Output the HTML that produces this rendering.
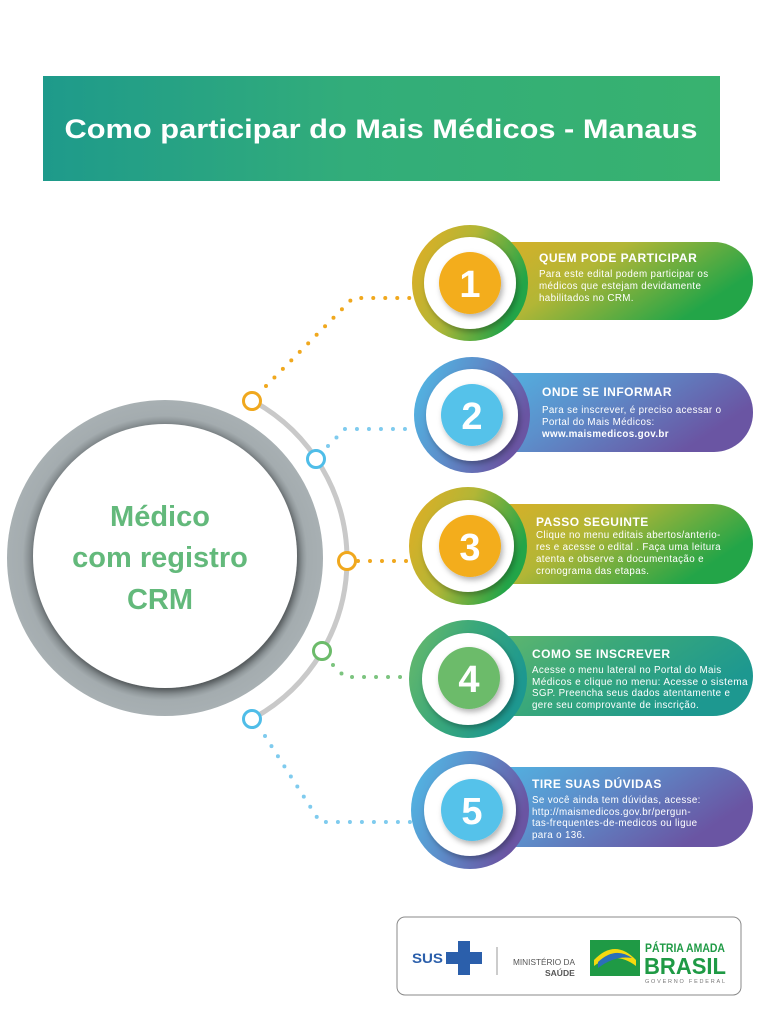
<!DOCTYPE html>
<html><head><meta charset="utf-8"><style>
html,body{margin:0;padding:0;background:#fff;}
svg{display:block;font-family:"Liberation Sans",sans-serif;}
.b{font-size:9.8px;letter-spacing:0.35px;}
.h{font-size:12px;font-weight:bold;letter-spacing:0.5px;}
</style></head><body>
<svg width="765" height="1024" viewBox="0 0 765 1024" xmlns="http://www.w3.org/2000/svg">
<defs>
<linearGradient id="tg" x1="0" x2="1" y1="0" y2="0"><stop offset="0" stop-color="#1e9a8b"/><stop offset="0.45" stop-color="#32ad7a"/><stop offset="1" stop-color="#38b26f"/></linearGradient>
<linearGradient id="gY" x1="0" x2="1" y1="0" y2="0.4"><stop offset="0" stop-color="#e5ad22"/><stop offset="0.5" stop-color="#b2b636"/><stop offset="1" stop-color="#23a548"/></linearGradient>
<linearGradient id="gB" x1="0" x2="1" y1="0" y2="0.4"><stop offset="0" stop-color="#4fbde8"/><stop offset="0.5" stop-color="#5c8fcb"/><stop offset="1" stop-color="#6a55a3"/></linearGradient>
<linearGradient id="gG" x1="0" x2="1" y1="0" y2="0.4"><stop offset="0" stop-color="#6cbb6a"/><stop offset="0.5" stop-color="#3aa87a"/><stop offset="1" stop-color="#1d9890"/></linearGradient>
<radialGradient id="ring" cx="0.5" cy="0.5" r="0.5"><stop offset="0.82" stop-color="#6f7679"/><stop offset="0.9" stop-color="#a4acaf"/><stop offset="1" stop-color="#a8b0b3"/></radialGradient>
<filter id="sh" x="-30%" y="-30%" width="160%" height="160%"><feDropShadow dx="2" dy="3" stdDeviation="3" flood-color="#000" flood-opacity="0.3"/></filter>
</defs>

<rect x="43" y="76" width="677" height="105" fill="url(#tg)"/>
<text x="381" y="138" text-anchor="middle" fill="#fff" font-size="27" font-weight="bold" textLength="633" lengthAdjust="spacingAndGlyphs">Como participar do Mais Médicos - Manaus</text>

<circle cx="165" cy="558" r="158" fill="url(#ring)"/>
<circle cx="165" cy="556" r="132" fill="#fff" filter="url(#sh)"/>
<text fill="#63b97b" font-weight="bold" font-size="29" text-anchor="middle">
<tspan x="160" y="526">Médico</tspan><tspan x="160" y="567">com registro</tspan><tspan x="160" y="609">CRM</tspan></text>

<path d="M253,401 A181,181 0 0 1 252,719" fill="none" stroke="#c9c9c9" stroke-width="5"/>

<g stroke-linecap="round" stroke-width="4" fill="none" stroke-dasharray="0 12">
<path d="M266,386 L353,298 L410,298" stroke="#f0a81e"/>
<path d="M328,446 L345,429 L410,429" stroke="#7fcbee"/>
<path d="M358,561 L410,561" stroke="#f0a81e"/>
<path d="M333,665 L345,677 L410,677" stroke="#7cc47f"/>
<path d="M265,736 L320,822 L410,822" stroke="#7fcbee"/>
</g>
<g fill="#fff" stroke-width="3">
<circle cx="252" cy="401" r="8.5" stroke="#f0a81e"/>
<circle cx="316" cy="459" r="8.5" stroke="#4fbde8"/>
<circle cx="347" cy="561" r="8.5" stroke="#f0a81e"/>
<circle cx="322" cy="651" r="8.5" stroke="#6cbb6a"/>
<circle cx="252" cy="719" r="8.5" stroke="#4fbde8"/>
</g>

<g>
<rect x="455" y="242" width="298" height="78" rx="39" fill="url(#gY)"/>
<circle cx="470" cy="283" r="58" fill="url(#gY)"/>
<circle cx="470" cy="283" r="46" fill="#fff" filter="url(#sh)"/>
<circle cx="470" cy="283" r="31" fill="#f3ad1d" filter="url(#sh)"/>
<text x="470" y="297" text-anchor="middle" fill="#fff" font-size="38" font-weight="bold">1</text>
<text x="539" y="262" fill="#fff" class="h">QUEM PODE PARTICIPAR</text>
<text fill="#fff" class="b"><tspan x="539" y="277">Para este edital podem participar os</tspan><tspan x="539" y="289">médicos que estejam devidamente</tspan><tspan x="539" y="301">habilitados no  CRM.</tspan></text>
</g>
<g>
<rect x="455" y="373" width="298" height="79" rx="39" fill="url(#gB)"/>
<circle cx="472" cy="415" r="58" fill="url(#gB)"/>
<circle cx="472" cy="415" r="46" fill="#fff" filter="url(#sh)"/>
<circle cx="472" cy="415" r="31" fill="#55c2ea" filter="url(#sh)"/>
<text x="472" y="429" text-anchor="middle" fill="#fff" font-size="38" font-weight="bold">2</text>
<text x="542" y="396" fill="#fff" class="h">ONDE SE INFORMAR</text>
<text fill="#fff" class="b"><tspan x="542" y="413">Para se inscrever, é preciso acessar o</tspan><tspan x="542" y="425">Portal do Mais Médicos:</tspan><tspan x="542" y="437" font-weight="bold">www.maismedicos.gov.br</tspan></text>
</g>
<g>
<rect x="455" y="504" width="298" height="80" rx="40" fill="url(#gY)"/>
<circle cx="468" cy="546" r="59" fill="url(#gY)"/>
<circle cx="468" cy="546" r="46" fill="#fff" filter="url(#sh)"/>
<circle cx="470" cy="546" r="31" fill="#f3ad1d" filter="url(#sh)"/>
<text x="470" y="560" text-anchor="middle" fill="#fff" font-size="38" font-weight="bold">3</text>
<text x="536" y="526" fill="#fff" class="h">PASSO SEGUINTE</text>
<text fill="#fff" class="b"><tspan x="536" y="538">Clique no menu editais abertos/anterio-</tspan><tspan x="536" y="550">res e acesse o edital . Faça uma leitura</tspan><tspan x="536" y="562">atenta e observe a documentação e</tspan><tspan x="536" y="574">cronograma das etapas.</tspan></text>
</g>
<g>
<rect x="455" y="636" width="298" height="80" rx="40" fill="url(#gG)"/>
<circle cx="468" cy="679" r="59" fill="url(#gG)"/>
<circle cx="468" cy="679" r="46" fill="#fff" filter="url(#sh)"/>
<circle cx="469" cy="678" r="31" fill="#6cbb6a" filter="url(#sh)"/>
<text x="469" y="692" text-anchor="middle" fill="#fff" font-size="38" font-weight="bold">4</text>
<text x="532" y="658" fill="#fff" class="h">COMO SE INSCREVER</text>
<text fill="#fff" class="b"><tspan x="532" y="673">Acesse o menu lateral no Portal do Mais</tspan><tspan x="532" y="685" textLength="216" lengthAdjust="spacingAndGlyphs">Médicos e clique no menu: Acesse o sistema</tspan><tspan x="532" y="696">SGP. Preencha seus dados atentamente e</tspan><tspan x="532" y="708">gere seu comprovante de inscrição.</tspan></text>
</g>
<g>
<rect x="455" y="767" width="298" height="80" rx="40" fill="url(#gB)"/>
<circle cx="470" cy="810" r="59" fill="url(#gB)"/>
<circle cx="470" cy="810" r="46" fill="#fff" filter="url(#sh)"/>
<circle cx="472" cy="810" r="31" fill="#55c2ea" filter="url(#sh)"/>
<text x="472" y="824" text-anchor="middle" fill="#fff" font-size="38" font-weight="bold">5</text>
<text x="532" y="788" fill="#fff" class="h">TIRE SUAS DÚVIDAS</text>
<text fill="#fff" class="b"><tspan x="532" y="803">Se você ainda tem dúvidas, acesse:</tspan><tspan x="532" y="815">http://maismedicos.gov.br/pergun-</tspan><tspan x="532" y="826">tas-frequentes-de-medicos ou ligue</tspan><tspan x="532" y="838">para o 136.</tspan></text>
</g>

<rect x="397" y="917" width="344" height="78" rx="8" fill="#fff" stroke="#8a8a8a" stroke-width="1"/>
<text x="412" y="963" fill="#2b5fab" font-size="14" font-weight="bold" textLength="31" lengthAdjust="spacingAndGlyphs">SUS</text>
<path d="M458,941 h12 v11 h12 v12 h-12 v11 h-12 v-11 h-12 v-12 h12z" fill="#2b5fab"/>
<line x1="497" y1="947" x2="497" y2="975" stroke="#999" stroke-width="1"/>
<text x="513" y="965" fill="#555" font-size="8.5" textLength="62" lengthAdjust="spacingAndGlyphs">MINISTÉRIO DA</text>
<text x="545" y="976" fill="#555" font-size="8.5" font-weight="bold">SAÚDE</text>
<rect x="590" y="940" width="50" height="36" fill="#1f9a45"/>
<path d="M594,960 Q615,938 636,960 L636,966 Q615,950 594,966z" fill="#f5d90f"/>
<path d="M598,962 Q615,946 632,958 Q615,955 598,968z" fill="#2b6fb8"/>
<text x="645" y="952" fill="#1f9a45" font-size="12" font-weight="bold" textLength="80" lengthAdjust="spacingAndGlyphs">PÁTRIA AMADA</text>
<text x="644" y="974" fill="#1f9a45" font-size="23" font-weight="bold" textLength="82" lengthAdjust="spacingAndGlyphs">BRASIL</text>
<text x="645" y="983" fill="#777" font-size="5.5" textLength="80" lengthAdjust="spacing">GOVERNO FEDERAL</text>
</svg>
</body></html>
